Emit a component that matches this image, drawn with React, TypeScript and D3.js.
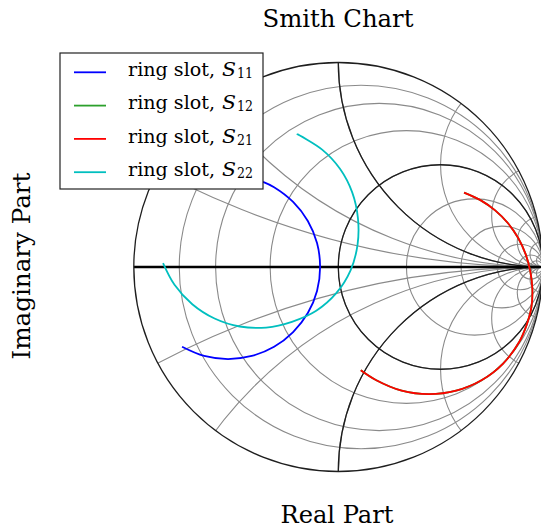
import React from "react";
import * as d3 from "d3";

// Smith chart grid values (normalised resistance / reactance)
const rLight = [0.125, 0.25, 0.5, 1, 2, 4, 8, 16, 32];
const xLight = [0.25, 0.5, 1, 2, 4, 8, 16, 32, -0.25, -0.5, -1, -2, -4, -8, -16, -32];
const rHeavy = [1];
const xHeavy = [1, -1];

// Reflection coefficients [real, imag] of the ring slot two-port
const s11: [number, number][] = [
  [-0.764, -0.39], [-0.656, -0.435], [-0.539, -0.45], [-0.423, -0.435],
  [-0.314, -0.39], [-0.221, -0.318], [-0.149, -0.225], [-0.104, -0.117],
  [-0.089, 0.0], [-0.104, 0.117], [-0.149, 0.225], [-0.221, 0.318],
  [-0.314, 0.39], [-0.368, 0.416],
];
const s21: [number, number][] = [
  [0.615, 0.364], [0.695, 0.327], [0.767, 0.277], [0.829, 0.215],
  [0.879, 0.143], [0.916, 0.063], [0.939, -0.022], [0.949, -0.109],
  [0.944, -0.198], [0.921, -0.283], [0.886, -0.364], [0.806, -0.472],
  [0.7, -0.554], [0.576, -0.605], [0.443, -0.622], [0.31, -0.605],
  [0.186, -0.554], [0.11, -0.505],
];
// reciprocal network: S12 follows S21
const s12: [number, number][] = s21.map((p) => [p[0], p[1]]);
const s22: [number, number][] = [
  [-0.857, 0.019], [-0.801, -0.087], [-0.714, -0.182], [-0.605, -0.252],
  [-0.482, -0.291], [-0.353, -0.296], [-0.227, -0.268], [-0.108, -0.214],
  [-0.01, -0.128], [0.06, -0.016], [0.094, 0.108], [0.096, 0.239],
  [0.068, 0.365], [0.009, 0.479], [-0.079, 0.574], [-0.203, 0.651],
];

const seriesNames = ["S11", "S12", "S21", "S22"];
const seriesColors = ["#0000ff", "#2ca02c", "#ff0000", "#00bfbf"];
const seriesData = [s11, s12, s21, s22];

const W = 541;
const H = 529;
const CX = 338.3;
const CY = 267;
const RAD = 204.5;

export default function App() {
  const x = d3.scaleLinear().domain([-1, 1]).range([CX - RAD, CX + RAD]);
  const y = d3.scaleLinear().domain([-1, 1]).range([CY + RAD, CY - RAD]);
  const len = (v: number) => x(v) - x(0);

  const line = d3
    .line<[number, number]>()
    .x((d) => x(d[0]))
    .y((d) => y(d[1]))
    .curve(d3.curveCatmullRom);

  const light = "#8a8a8a";
  const heavy = "#1e1e1e";

  const legendX = 60;
  const legendY = 53;
  const rowH = 33.3;

  return (
    <svg
      width={W}
      height={H}
      style={{ position: "absolute", left: 0, top: 0, background: "#fff" }}
    >
      <defs>
        <clipPath id="unit">
          <circle cx={x(0)} cy={y(0)} r={len(1)} />
        </clipPath>
      </defs>

      <g clipPath="url(#unit)" fill="none">
        {rLight.map((r) => (
          <circle key={"rl" + r} cx={x(r / (1 + r))} cy={y(0)} r={len(1 / (1 + r))} stroke={light} strokeWidth={1.1} />
        ))}
        {xLight.map((v) => (
          <circle key={"xl" + v} cx={x(1)} cy={y(1 / v)} r={len(1 / Math.abs(v))} stroke={light} strokeWidth={1.1} />
        ))}
        {rHeavy.map((r) => (
          <circle key={"rh" + r} cx={x(r / (1 + r))} cy={y(0)} r={len(1 / (1 + r))} stroke={heavy} strokeWidth={1.3} />
        ))}
        {xHeavy.map((v) => (
          <circle key={"xh" + v} cx={x(1)} cy={y(1 / v)} r={len(1 / Math.abs(v))} stroke={heavy} strokeWidth={1.3} />
        ))}
        <line x1={x(-1)} x2={x(1)} y1={y(0)} y2={y(0)} stroke="#000" strokeWidth={2.6} />
      </g>
      <circle cx={x(0)} cy={y(0)} r={len(1)} fill="none" stroke={heavy} strokeWidth={1.3} />

      {seriesData.map((d, i) => (
        <path key={seriesNames[i]} d={line(d) || ""} fill="none" stroke={seriesColors[i]} strokeWidth={1.8} />
      ))}

      <text x={338} y={27} textAnchor="middle" fontFamily="DejaVu Serif" fontSize={24} textLength={151} lengthAdjust="spacingAndGlyphs">
        Smith Chart
      </text>
      <text x={337} y={523} textAnchor="middle" fontFamily="DejaVu Serif" fontSize={24} textLength={113} lengthAdjust="spacingAndGlyphs">
        Real Part
      </text>
      <text
        transform={`translate(30,266) rotate(-90)`}
        textAnchor="middle"
        fontFamily="DejaVu Serif"
        fontSize={24}
        textLength={187}
        lengthAdjust="spacingAndGlyphs"
      >
        Imaginary Part
      </text>

      <g>
        <rect x={legendX} y={legendY} width={203} height={136} fill="#fff" stroke="#222" strokeWidth={1.2} />
        {seriesNames.map((name, i) => {
          const yy = legendY + 19.3 + i * rowH;
          return (
            <g key={"lg" + name}>
              <line x1={74} x2={106} y1={yy} y2={yy} stroke={seriesColors[i]} strokeWidth={1.8} />
              <text x={128} y={yy + 3.7} fontFamily="DejaVu Serif" fontSize={19} textLength={87} lengthAdjust="spacingAndGlyphs">
                ring slot,
              </text>
              <text x={222} y={yy + 3.7} fontFamily="DejaVu Serif" fontStyle="italic" fontSize={19} textLength={14} lengthAdjust="spacingAndGlyphs">
                S
              </text>
              <text x={237} y={yy + 5.7} fontFamily="DejaVu Serif" fontSize={14} textLength={16} lengthAdjust="spacingAndGlyphs">
                {name.slice(1)}
              </text>
            </g>
          );
        })}
      </g>
    </svg>
  );
}
